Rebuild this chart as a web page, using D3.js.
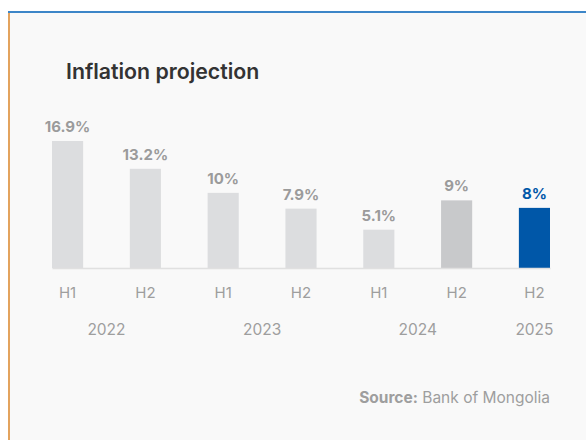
<!DOCTYPE html>
<html>
<head>
<meta charset="utf-8">
<script src="https://cdn.jsdelivr.net/npm/d3@7/dist/d3.min.js"></script>
<style>
  html, body { margin: 0; padding: 0; background: #ffffff; }
  svg { display: block; font-family: Inter, "Noto Sans", sans-serif; }
</style>
</head>
<body>
<svg id="chart" width="586" height="440"></svg>
<script>
// Half-year inflation figures (percent)
const periods = ["2022 H1", "2022 H2", "2023 H1", "2023 H2", "2024 H1", "2024 H2", "2025 H2"];
const halves  = ["H1", "H2", "H1", "H2", "H1", "H2", "H2"];
const years   = ["2022", "2022", "2023", "2023", "2024", "2024", "2025"];
const values  = [16.9, 13.2, 10, 7.9, 5.1, 9, 8];
const valueLabels = ["16.9%", "13.2%", "10%", "7.9%", "5.1%", "9%", "8%"];
const barKinds = ["past", "past", "past", "past", "past", "current", "target"];

const fills = { past: "#dcdddf", current: "#c8c9cb", target: "#0057a8" };
const labelColors = { past: "#9b9b9b", current: "#9b9b9b", target: "#0057a8" };

const svg = d3.select("#chart");
const W = 586, H = 440;

// card
svg.append("rect").attr("x", 8).attr("y", 11).attr("width", W - 8).attr("height", H - 11)
  .attr("fill", "#f9f9f9");
svg.append("line").attr("x1", 8).attr("x2", W).attr("y1", 12).attr("y2", 12)
  .attr("stroke", "#3d86c8").attr("stroke-width", 2);
svg.append("line").attr("x1", 9).attr("x2", 9).attr("y1", 13).attr("y2", H)
  .attr("stroke", "#e3a35e").attr("stroke-width", 2);

// title
svg.append("text").attr("x", 66).attr("y", 79)
  .attr("font-size", 21.3).attr("font-weight", 600).attr("fill", "#333333")
  .text("Inflation projection");

const baseY = 268;
const x = d3.scaleBand().domain(periods).range([52, 550]).paddingInner(0.6).paddingOuter(0);
const y = d3.scaleLinear().domain([0, 20]).range([baseY, baseY - 150.3]);

const rows = periods.map((p, i) => ({ p, v: values[i], label: valueLabels[i], kind: barKinds[i] }));

svg.append("g").selectAll("rect").data(rows).join("rect")
  .attr("x", d => x(d.p))
  .attr("y", d => y(d.v))
  .attr("width", x.bandwidth())
  .attr("height", d => y(0) - y(d.v))
  .attr("fill", d => fills[d.kind]);

svg.append("g").selectAll("text").data(rows).join("text")
  .attr("x", d => x(d.p) + x.bandwidth() / 2)
  .attr("y", d => y(d.v) - 9)
  .attr("text-anchor", "middle")
  .attr("font-size", 15).attr("font-weight", 700)
  .attr("fill", d => labelColors[d.kind])
  .text(d => d.label);

// half-year axis
const axis = svg.append("g").attr("transform", `translate(0,${baseY})`)
  .call(d3.axisBottom(x).tickSize(0).tickSizeOuter(0).tickPadding(19)
    .tickFormat((d, i) => halves[i]));
axis.select(".domain").attr("stroke", "#e0e0e0").attr("stroke-width", 1.5);
axis.selectAll("text").attr("font-size", 15).attr("fill", "#9e9e9e")
  .attr("font-family", "Inter, 'Noto Sans', sans-serif");

// year labels centred under their bars
const yearGroups = d3.groups(periods.map((p, i) => ({ p, yr: years[i] })), d => d.yr);
svg.append("g").selectAll("text").data(yearGroups).join("text")
  .attr("x", ([, arr]) => d3.mean(arr, d => x(d.p) + x.bandwidth() / 2))
  .attr("y", 335)
  .attr("text-anchor", "middle")
  .attr("font-size", 15.5).attr("fill", "#9e9e9e")
  .text(([yr]) => yr);

// source note
const src = svg.append("text").attr("x", 550).attr("y", 403).attr("text-anchor", "end")
  .attr("font-size", 15.5).attr("fill", "#9e9e9e");
src.append("tspan").attr("font-weight", 700).text("Source:");
src.append("tspan").text(" Bank of Mongolia");
</script>
</body>
</html>
